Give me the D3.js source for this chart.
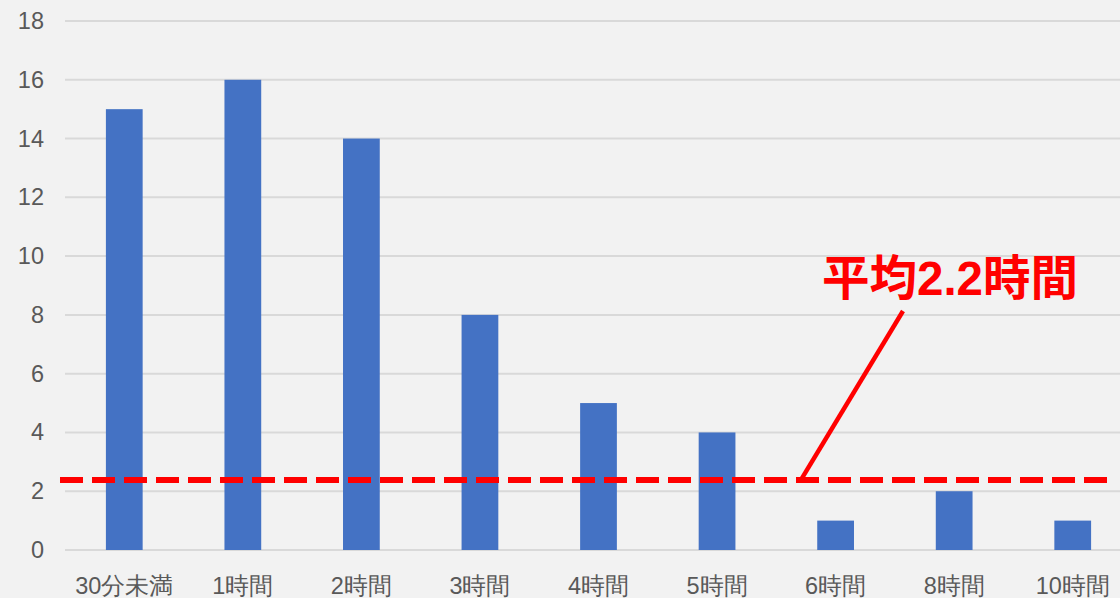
<!DOCTYPE html>
<html>
<head>
<meta charset="utf-8">
<script src="https://cdn.jsdelivr.net/npm/d3@7"></script>
<style>
  body { margin: 0; background: #f2f2f2; }
  svg { display: block; font-family: "Liberation Sans", Arial, "Noto Sans CJK JP", sans-serif; }
</style>
</head>
<body>
<svg id="chart" width="1120" height="598"></svg>
<script>
const categories = ["30分未満", "1時間", "2時間", "3時間", "4時間", "5時間", "6時間", "8時間", "10時間"];
const counts = [15, 16, 14, 8, 5, 4, 1, 2, 1];
const yTicks = [0, 2, 4, 6, 8, 10, 12, 14, 16, 18];
const averageLine = 2.38;   // where the dashed line sits in the picture
const averageLabel = "平均2.2時間";

const svg = d3.select("#chart");
const margin = { left: 65, right: -12, top: 21, bottom: 48 };
const width = 1120, height = 598;

const x = d3.scaleBand()
  .domain(categories)
  .range([margin.left, width - margin.right])
  .paddingInner(0.69)
  .paddingOuter(0.345);

const y = d3.scaleLinear()
  .domain([0, 18])
  .range([height - margin.bottom, margin.top]);

// grid lines
svg.append("g")
  .selectAll("line")
  .data(yTicks)
  .join("line")
  .attr("x1", margin.left)
  .attr("x2", width)
  .attr("y1", d => y(d))
  .attr("y2", d => y(d))
  .attr("stroke", "#d9d9d9")
  .attr("stroke-width", 2);

// y axis labels
const yAxis = d3.axisLeft(y).tickValues(yTicks).tickSize(0).tickPadding(0);
svg.append("g")
  .attr("transform", "translate(44,0)")
  .call(yAxis)
  .call(g => g.select(".domain").remove())
  .call(g => g.selectAll("text")
    .attr("fill", "#595959")
    .style("font-size", "23.5px")
    .style("font-family", null));

// bars
svg.append("g")
  .selectAll("rect")
  .data(categories)
  .join("rect")
  .attr("x", d => x(d))
  .attr("width", x.bandwidth())
  .attr("y", (d, i) => y(counts[i]))
  .attr("height", (d, i) => y(0) - y(counts[i]))
  .attr("fill", "#4472c4");

// x axis labels
const xAxis = d3.axisBottom(x).tickSize(0).tickPadding(0);
svg.append("g")
  .attr("transform", `translate(0,${y(0)})`)
  .call(xAxis)
  .call(g => g.select(".domain").remove())
  .call(g => g.selectAll("text")
    .attr("fill", "#595959")
    .attr("dy", 0)
    .attr("y", 44)
    .style("font-size", "23.5px")
    .style("font-family", null));

// average dashed line
svg.append("line")
  .attr("x1", 60)
  .attr("x2", 1110)
  .attr("y1", y(averageLine))
  .attr("y2", y(averageLine))
  .attr("stroke", "#ff0000")
  .attr("stroke-width", 6)
  .attr("stroke-dasharray", "23,9");

// leader line
svg.append("line")
  .attr("x1", 802)
  .attr("y1", y(averageLine) - 2)
  .attr("x2", 903)
  .attr("y2", 311)
  .attr("stroke", "#ff0000")
  .attr("stroke-width", 4.5);

svg.append("text")
  .attr("x", 950)
  .attr("y", 295)
  .attr("text-anchor", "middle")
  .attr("fill", "#ff0000")
  .style("font-size", "47.5px")
  .style("font-weight", "bold")
  .text(averageLabel);
</script>
</body>
</html>
